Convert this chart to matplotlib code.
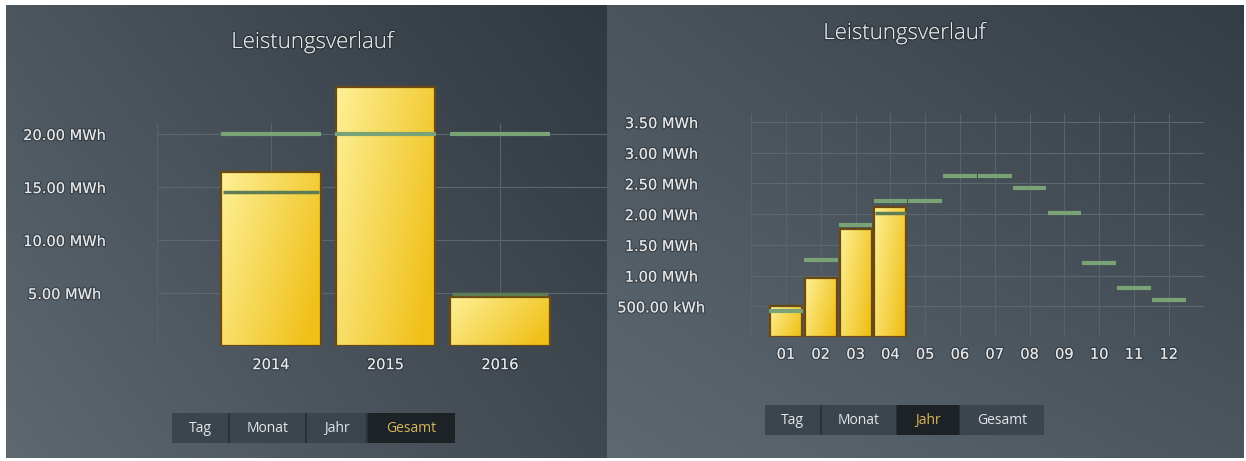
import matplotlib.pyplot as plt
import matplotlib.patheffects as pe
from matplotlib.patches import Rectangle
import numpy as np

plt.rcParams['font.family'] = ['DejaVu Sans']

# Gesamt-Ansicht: Jahreswerte in MWh
jahre = ['2014', '2015', '2016']
ertrag_jahr = [16.4, 24.4, 4.6]
soll_jahr = [20.0, 20.0, 20.0]
soll_anteil_jahr = [14.5, np.nan, 4.9]
ticks_jahr = [5, 10, 15, 20]
labels_jahr = ['5.00 MWh', '10.00 MWh', '15.00 MWh', '20.00 MWh']

# Jahr-Ansicht: Monatswerte in MWh
monate = ['01', '02', '03', '04', '05', '06', '07', '08', '09', '10', '11', '12']
ertrag_monat = [0.50, 0.96, 1.76, 2.12]
soll_monat = [0.42, 1.25, 1.82, 2.21, 2.21, 2.62, 2.62, 2.43, 2.02, 1.21, 0.80, 0.60]
soll_anteil_monat = [np.nan, np.nan, np.nan, 2.02] + [np.nan] * 8
ticks_monat = [0.5, 1.0, 1.5, 2.0, 2.5, 3.0, 3.5]
labels_monat = ['500.00 kWh', '1.00 MWh', '1.50 MWh', '2.00 MWh',
                '2.50 MWh', '3.00 MWh', '3.50 MWh']

buttons = ['Tag', 'Monat', 'Jahr', 'Gesamt']

W, H = 1246, 461
fig = plt.figure(figsize=(W / 100, H / 100), dpi=100, facecolor='white')

# Hintergrund in Pixelkoordinaten (y nach unten)
bg = fig.add_axes([0, 0, 1, 1])
bg.axis('off')


def panel(x0, x1, y0, y1, tl, tr, bl, br):
    u = np.linspace(0, 1, 80)[None, :, None]
    v = np.linspace(0, 1, 80)[:, None, None]
    c = [np.array(k) / 255 for k in (tl, tr, bl, br)]
    img = (1 - u) * (1 - v) * c[0] + u * (1 - v) * c[1] + (1 - u) * v * c[2] + u * v * c[3]
    bg.imshow(img, extent=[x0, x1, y1, y0], aspect='auto', interpolation='bilinear')


panel(6, 607, 6, 458, (76, 86, 94), (48, 56, 64), (94, 104, 112), (64, 72, 80))
panel(607, 1244, 6, 458, (74, 84, 92), (52, 61, 69), (94, 104, 112), (76, 86, 94))
bg.set_xlim(0, W)
bg.set_ylim(H, 0)

shadow = [pe.withStroke(linewidth=2, foreground=(0, 0, 0, 0.25))]

for xc, yc in [(313, 42), (905, 33)]:
    bg.text(xc, yc, 'Leistungsverlauf', ha='center', va='center', fontsize=16,
            family='Open Sans', fontweight='light', color='#e4e8ea', path_effects=shadow)


def button_bar(segs, y0, y1, active):
    bg.add_patch(Rectangle((segs[0][0], y0), segs[-1][1] - segs[0][0], y1 - y0,
                           facecolor='#2a3238', edgecolor='none'))
    for (x0, x1), lab in zip(segs, buttons):
        on = lab == active
        bg.add_patch(Rectangle((x0, y0), x1 - x0, y1 - y0, edgecolor='none',
                               facecolor='#1d2227' if on else '#3b454d'))
        bg.text((x0 + x1) / 2, (y0 + y1) / 2, lab, ha='center', va='center', fontsize=10,
                family='Open Sans', color='#d9b65c' if on else '#e3e6e9')


button_bar([(172, 228), (230, 305), (307, 366), (368, 455)], 413, 443, 'Gesamt')
button_bar([(765, 820), (822, 896), (897, 959), (960, 1044)], 405, 435, 'Jahr')


def px_axes(left, top, right, bottom):
    ax = fig.add_axes([left / W, 1 - bottom / H, (right - left) / W, (bottom - top) / H])
    ax.patch.set_alpha(0)
    for s in ax.spines.values():
        s.set_visible(False)
    return ax


def chart(ax, cats, werte, soll, anteil, ticks, labels, xmax, ymax, vtop,
          bw, lw_soll, ypad, xpad):
    n = len(cats)
    ax.set_xlim(-1, xmax)
    ax.set_ylim(0, ymax)
    for t in ticks:
        ax.axhline(t, color='#5d676f', lw=0.8, zorder=0)
    ax.vlines(np.arange(-1, n), 0, vtop, color='#58626a', lw=0.8, zorder=0, clip_on=False)

    bars = ax.bar(range(len(werte)), werte, width=bw, facecolor='none',
                  edgecolor='#6a4a12', linewidth=1.6, zorder=3)
    grad_x = np.linspace(0, 1, 60)[None, :]
    grad_y = np.linspace(0, 1, 60)[:, None]
    t = np.clip(0.75 * grad_x + 0.35 * grad_y, 0, 1)[..., None]
    hell = np.array([253, 240, 150]) / 255
    satt = np.array([240, 192, 24]) / 255
    img = (1 - t) * hell + t * satt
    for r in bars:
        im = ax.imshow(img, extent=[r.get_x(), r.get_x() + r.get_width(), 0, r.get_height()],
                       aspect='auto', zorder=2, origin='upper')
        im.set_clip_path(r)

    x = np.arange(n)
    ax.hlines(soll, x - lw_soll / 2, x + lw_soll / 2, colors='#79a377', lw=3, zorder=4)
    ax.hlines(anteil, x - bw / 2 + 0.02, x + bw / 2 - 0.02, colors='#5f7d55', lw=2.5, zorder=4)

    ax.set_xlim(-1, xmax)
    ax.set_ylim(0, ymax)
    ax.set_xticks(x)
    ax.set_xticklabels(cats)
    ax.set_yticks(ticks)
    ax.set_yticklabels(labels)
    ax.tick_params(axis='both', length=0, labelsize=10.5, labelcolor='#e6e9ec')
    ax.tick_params(axis='y', pad=ypad)
    ax.tick_params(axis='x', pad=xpad)
    for lab in ax.get_yticklabels():
        lab.set_ha('center')
    for lab in ax.get_xticklabels() + ax.get_yticklabels():
        lab.set_path_effects(shadow)


ax1 = px_axes(156.5, 81, 606.5, 346)
chart(ax1, jahre, ertrag_jahr, soll_jahr, soll_anteil_jahr, ticks_jahr, labels_jahr,
      2.93, 25, 21, 0.87, 0.88, 66, 8)

ax2 = px_axes(751.2, 109.8, 1203.6, 337)
chart(ax2, monate, ertrag_monat, soll_monat, soll_anteil_monat, ticks_monat, labels_monat,
      12, 3.7, 3.65, 0.92, 0.96, 64.5, 7)

fig.savefig('out.png', dpi=100, facecolor='white')
